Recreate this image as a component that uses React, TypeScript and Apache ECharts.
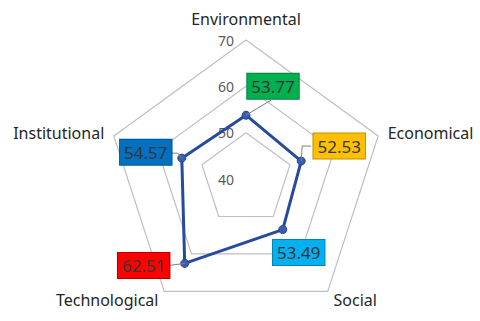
import React, { useEffect, useRef } from 'react';
import * as echarts from 'echarts';

// ---- data ----
const categories = ['Environmental', 'Institutional', 'Technological', 'Social', 'Economical'];
const values = [53.77, 54.57, 62.51, 53.49, 52.53];
const tickValues = [40, 50, 60, 70];
const boxColors = ['#00B050', '#0070C0', '#FF0000', '#00B0F0', '#FFC000'];
const boxBorders = ['#00843C', '#00548F', '#B00000', '#0084B4', '#BF9000'];

// ---- layout (label box centre offsets from data point, leader polylines) ----
const boxOffsets: number[][] = [[27, -29], [-36, -6], [-41, 2], [16, 23], [38, -15]];
const leaders: number[][][] = [
  [[0, 0], [25, -15]],
  [[0, 0], [-4, -5], [-10, -5]],
  [[0, 0], [-15, 2]],
  [],
  [[0, 0], [1, -15], [10, -15]],
];

const CENTER = [246, 179];
const RADIUS = 139;
const FONT = 'Noto Sans';

export default function App() {
  const ref = useRef<HTMLDivElement>(null);
  useEffect(() => {
    if (!ref.current) return;
    const chart = echarts.init(ref.current, null, { renderer: 'svg' });
    const min = tickValues[0];
    const max = tickValues[tickValues.length - 1];
    chart.setOption({
      animation: false,
      backgroundColor: '#ffffff',
      radar: {
        center: CENTER,
        radius: RADIUS,
        startAngle: 90,
        shape: 'polygon',
        splitNumber: tickValues.length - 1,
        nameGap: 10,
        axisName: { color: '#262626', fontSize: 16, fontFamily: FONT, padding: [0, 0, 3, 0] },
        indicator: categories.map((name) => ({ name, min, max })),
        axisLine: { show: false },
        axisTick: { show: false },
        axisLabel: { show: false },
        splitArea: { show: false },
        splitLine: { lineStyle: { color: '#BFBFBF', width: 1.2 } },
      },
      polar: { center: CENTER, radius: RADIUS },
      angleAxis: { show: false, startAngle: 90, min: 0, max: 360 },
      radiusAxis: {
        min,
        max,
        interval: 10,
        axisLine: { show: false },
        axisTick: { show: false },
        splitLine: { show: false },
        axisLabel: { color: '#595959', fontSize: 14, fontFamily: FONT, margin: 12 },
      },
      series: [
        {
          type: 'radar',
          symbol: 'circle',
          symbolSize: 8,
          lineStyle: { color: '#274A9E', width: 3 },
          itemStyle: { color: '#3A5FAE', borderColor: '#21418E', borderWidth: 1 },
          data: [{ value: values, name: 'score' }],
        },
      ],
    });

    let pts: number[][] = [];
    try {
      const radar = (chart as any).getModel().getComponent('radar', 0).coordinateSystem;
      pts = values.map((v, i) => radar.dataToPoint(v, i));
    } catch (e) {
      pts = values.map((v, i) => {
        const r = ((v - min) / (max - min)) * RADIUS;
        const a = Math.PI / 2 + (i * 2 * Math.PI) / categories.length;
        return [CENTER[0] + r * Math.cos(a), CENTER[1] - r * Math.sin(a)];
      });
    }

    const elements: any[] = [];
    values.forEach((v, i) => {
      const p = pts[i];
      if (leaders[i].length) {
        elements.push({
          type: 'polyline',
          z: 10,
          shape: { points: leaders[i].map((o) => [p[0] + o[0], p[1] + o[1]]) },
          style: { stroke: '#7F7F7F', lineWidth: 1, fill: null },
        });
      }
      elements.push({
        type: 'text',
        z: 11,
        x: p[0] + boxOffsets[i][0],
        y: p[1] + boxOffsets[i][1],
        style: {
          text: v.toFixed(2),
          align: 'center',
          verticalAlign: 'middle',
          fill: '#363636',
          font: `17px "${FONT}"`,
          backgroundColor: boxColors[i],
          borderColor: boxBorders[i],
          borderWidth: 1,
          padding: [5, 4, 3, 4],
        },
      });
    });
    chart.setOption({ graphic: { elements } });

    return () => chart.dispose();
  }, []);
  return (
    <div
      ref={ref}
      style={{ position: 'fixed', left: 0, top: 0, width: 480, height: 321 }}
    />
  );
}
